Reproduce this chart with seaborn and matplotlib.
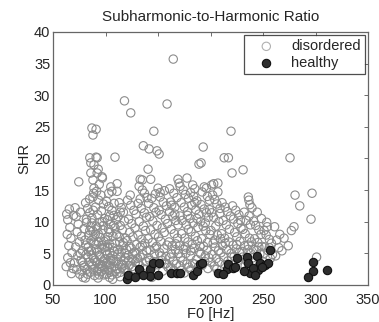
import matplotlib
matplotlib.use("Agg")
import matplotlib.pyplot as plt
import seaborn as sns
import pandas as pd

# Disordered voices: (F0 in Hz, SHR)
disordered_pts = [
    # 60-70 Hz
    (63, 11.2), (64, 10.3), (66, 9.1), (63.5, 8.0), (67, 7.4), (65, 6.2), (68, 5.1),
    (64, 4.3), (66.5, 3.5), (69, 2.6), (62.5, 2.9), (67.5, 1.8), (69.5, 11.0), (65.5, 12.0),
    # 70-80 Hz
    (71, 12.2), (72, 10.8), (74, 9.6), (76, 11.5), (73, 8.4), (77, 7.7), (75, 6.8),
    (71.5, 6.0), (78, 5.4), (73.5, 4.6), (76.5, 3.9), (79, 3.1), (72.5, 2.4), (75.5, 1.7),
    (78.5, 1.2), (74.5, 16.3), (79.5, 8.9), (70.5, 3.5), (77.5, 2.2),
    # 80-90 Hz
    (81, 13.0), (83, 12.1), (85, 11.4), (87, 10.6), (82, 9.9), (86, 9.2), (88, 8.5),
    (84, 7.8), (80.5, 7.1), (89, 6.6), (83.5, 6.0), (86.5, 5.4), (81.5, 4.8), (88.5, 4.2),
    (84.5, 3.6), (87.5, 3.0), (82.5, 2.5), (85.5, 2.0), (89.5, 1.5), (80.8, 1.1),
    (83.2, 4.4), (86.2, 7.0), (88.2, 11.8), (84.8, 13.6), (85, 20.1), (86, 19.3),
    (89, 19.0), (86, 17.7), (88, 16.6), (89, 15.3), (88.6, 14.5), (88, 13.9),
    (87, 24.8), (88, 23.7), (81.8, 10.4), (86.8, 3.3),
    # 90-100 Hz
    (91, 24.6), (92, 20.1), (91, 20.2), (93, 18.3), (92, 17.7), (96.7, 17.1), (97, 16.9),
    (94, 15.9), (91.5, 14.8), (95.5, 14.2), (93.5, 13.4), (98, 12.8), (90.5, 12.3),
    (96, 11.7), (92.5, 11.1), (99, 10.5), (94.5, 9.9), (91, 9.3), (97.5, 8.7), (93, 8.1),
    (95, 7.5), (98.5, 6.9), (90.8, 6.4), (96.5, 5.8), (92.2, 5.2), (94.2, 4.7),
    (99.2, 4.1), (91.8, 3.6), (97.2, 3.1), (93.8, 2.6), (95.8, 2.1), (98.2, 1.6),
    (92.8, 1.1), (90.2, 8.0), (96.8, 10.0), (94.8, 3.3), (99.5, 6.0),
    # 100-110 Hz
    (101, 13.2), (103, 12.4), (106, 11.8), (108, 11.0), (102, 10.3), (105, 9.6), (109, 9.0),
    (104, 8.3), (107, 7.7), (100.5, 7.1), (103.5, 6.5), (106.5, 5.9), (108.5, 5.3),
    (101.5, 4.8), (104.5, 4.2), (107.5, 3.7), (102.5, 3.2), (105.5, 2.7), (109.5, 2.2),
    (100.8, 1.7), (103.8, 1.2), (106.8, 0.9), (109, 20.2), (103, 14.5), (106, 14.8),
    (105, 15.5), (108.2, 12.9), (101.8, 6.0), (104.2, 2.0), (107.8, 9.4), (102.8, 8.8),
    # 110-120 Hz
    (111, 16.0), (111, 14.8), (113, 13.0), (115, 12.2), (117, 11.5), (112, 10.8),
    (118, 10.1), (114, 9.4), (116, 8.7), (110.5, 8.0), (119, 7.4), (113.5, 6.8),
    (116.5, 6.2), (111.5, 5.6), (118.5, 5.0), (114.5, 4.4), (117.5, 3.8), (112.5, 3.3),
    (115.5, 2.8), (119.5, 2.3), (110.8, 1.8), (113.8, 1.3), (118, 29.1),
    # 120-130 Hz
    (124, 27.2), (121, 13.4), (124, 12.6), (127, 11.8), (129, 11.2), (122, 10.4),
    (125, 9.7), (128, 9.0), (123, 8.3), (126, 7.6), (120.5, 7.0), (129.5, 6.4),
    (124.5, 5.8), (127.5, 5.2), (121.5, 4.7), (125.5, 4.1), (128.5, 3.6), (122.5, 3.1),
    (126.5, 2.6), (123.5, 14.2), (120.8, 2.0),
    # 130-140 Hz
    (132, 15.6), (133, 16.7), (135, 16.6), (135, 15.0), (136, 22.0), (133, 13.6),
    (131, 12.9), (134, 12.1), (137, 11.4), (139, 10.7), (132, 10.0), (136, 9.3),
    (138, 8.6), (131, 7.9), (134.5, 7.2), (137.5, 6.6), (133, 6.0), (139, 5.4),
    (135.5, 4.8), (130.5, 4.2), (138.5, 3.7), (132.5, 3.1), (136.5, 2.6), (134, 2.0),
    (139.5, 13.8), (137, 14.5),
    # 140-150 Hz
    (141.5, 21.5), (140.5, 18.3), (143, 16.7), (144, 13.7), (146, 24.3), (149, 21.2),
    (141, 12.9), (146, 12.2), (148, 11.5), (142, 10.8), (145, 10.1), (149, 9.4),
    (143, 8.7), (147, 8.0), (140.5, 7.3), (144.5, 6.7), (148.5, 6.1), (142.5, 5.5),
    (146.5, 4.9), (141, 4.3), (145.5, 3.7), (149.5, 3.2), (143.5, 2.7), (147.5, 14.4),
    (144, 1.2),
    # 150-160 Hz
    (150, 15.3), (151, 20.7), (158.6, 28.6), (152, 13.9), (155, 13.1), (158, 12.5),
    (151, 11.8), (153, 11.1), (157, 10.4), (159, 9.7), (154, 9.0), (156, 8.3),
    (150.5, 7.6), (152.5, 6.9), (158.5, 6.3), (155.5, 5.7), (151.5, 5.1), (157.5, 4.5),
    (153.5, 3.9), (156.5, 3.3), (159.5, 2.8), (154.5, 2.2), (152, 14.6), (156, 14.9),
    # 160-170 Hz
    (164.5, 35.7), (163, 12.6), (169, 16.7), (170, 16.1), (161, 15.2), (165, 14.5),
    (168, 13.8), (162, 13.1), (166, 12.3), (161, 11.6), (164, 10.9), (167, 10.2),
    (169, 9.5), (162.5, 8.8), (165.5, 8.1), (168.5, 7.4), (160.5, 6.8), (163.5, 6.2),
    (166.5, 5.6), (169.5, 5.0), (161.5, 4.4), (164.5, 3.8), (167.5, 3.3), (162, 2.8),
    (165, 2.3), (168, 1.8), (166, 11.2),
    # 170-180 Hz
    (177.6, 16.9), (171, 15.6), (174, 15.0), (176, 14.3), (179, 13.7), (172, 13.0),
    (175, 12.3), (178, 11.6), (171, 10.9), (173, 10.2), (177, 9.5), (179, 8.8),
    (172.5, 8.1), (175.5, 7.4), (178.5, 6.8), (170.5, 6.2), (174.5, 5.6), (176.5, 5.0),
    (171.5, 4.4), (173.5, 3.8), (177.5, 3.3), (179.5, 2.8), (172, 2.3), (175, 1.9),
    (178, 11.0),
    # 180-190 Hz
    (183, 15.8), (185, 15.2), (189, 19.1), (181, 14.6), (184, 14.0), (187, 13.3),
    (182, 12.6), (186, 11.9), (189, 11.2), (180.5, 10.5), (183.5, 9.8), (188, 9.1),
    (181.5, 8.4), (185.5, 7.7), (187.5, 7.0), (182.5, 6.4), (184.5, 5.8), (189.5, 5.2),
    (180.8, 4.6), (186.5, 4.0), (183, 3.4), (188.5, 2.9), (181, 2.4), (185, 13.0),
    (187, 10.5),
    # 190-200 Hz
    (193, 21.8), (191, 19.3), (194, 15.5), (196, 15.3), (192, 14.7), (197, 14.0),
    (199, 13.4), (191, 12.7), (194, 12.0), (196, 11.4), (198, 10.7), (190.5, 10.0),
    (193, 9.3), (195.5, 8.6), (199.5, 8.0), (191.5, 7.3), (197, 6.7), (193.5, 6.1),
    (196.5, 5.5), (190.8, 4.9), (198.5, 4.3), (194.5, 3.7), (192, 3.1), (197.5, 2.6),
    (195, 9.8), (199, 11.9),
    # 200-210 Hz
    (201, 15.8), (202, 14.2), (207, 14.7), (203, 16.0), (207, 16.1), (204, 13.5),
    (206, 12.8), (209, 12.1), (201, 11.4), (203, 10.7), (208, 10.0), (205, 9.3),
    (200.5, 8.6), (206.5, 7.9), (209.5, 7.3), (202.5, 6.6), (204.5, 6.0), (207.5, 5.4),
    (201.5, 4.8), (205.5, 4.2), (208.5, 3.6), (203.5, 3.0), (206, 2.5), (209, 11.3),
    # 210-220 Hz
    (213, 20.1), (217, 20.1), (219.5, 24.3), (211, 13.0), (214, 12.3), (216, 11.6),
    (219, 10.9), (212, 10.2), (215, 9.5), (218, 8.8), (210.5, 8.1), (213.5, 7.4),
    (217.5, 6.8), (211.5, 6.2), (215.5, 5.6), (219.5, 5.0), (212.5, 4.4), (216.5, 3.8),
    (214, 3.2), (218, 2.7),
    # 220-230 Hz
    (220.5, 17.7), (221, 12.5), (224, 11.8), (227, 11.1), (222, 10.4), (226, 9.7),
    (229, 9.0), (223, 8.3), (225, 7.6), (228, 6.9), (221.5, 6.3), (224.5, 5.7),
    (227.5, 5.1), (222.5, 4.5), (226.5, 3.9), (229.5, 3.3), (223.5, 2.8), (228.5, 10.2),
    # 230-240 Hz
    (231, 18.2), (236, 13.9), (236.5, 13.4), (239.5, 12.2), (236.7, 10.9), (232, 11.5),
    (234, 10.2), (238, 9.5), (231, 8.8), (233, 8.1), (237, 7.4), (239, 6.8),
    (232.5, 6.2), (235.5, 5.6), (238.5, 5.0), (230.5, 4.4), (234.5, 3.8), (233, 3.0),
    (237.5, 12.7),
    # 240-250 Hz
    (241, 10.1), (243, 9.4), (246, 8.7), (248, 8.0), (242, 7.3), (245, 6.7), (249, 6.1),
    (244, 5.5), (247, 4.9), (240.5, 4.3), (242.5, 3.6), (246.5, 3.1), (248.5, 10.5),
    (244.5, 11.5),
    # 250-260 Hz
    (254, 9.2), (251, 8.6), (253, 7.9), (256, 7.2), (258, 6.6), (252, 6.0), (255, 5.4),
    (259, 4.8), (257, 4.2), (250.5, 3.6), (253.5, 9.9),
    # 260-300 Hz
    (261, 9.2), (263, 7.1), (268, 5.4), (274, 6.2), (266, 8.0), (262, 4.6), (279.5, 9.2),
    (277, 8.6), (275.7, 20.1), (270, 7.4), (265, 5.9),
    (280.5, 14.2), (285, 12.5), (296.7, 14.5), (295.7, 10.4), (301, 4.4),
    # low-SHR core, 75-135 Hz
    (76, 5.0), (78, 3.6), (80, 2.8), (81, 6.3), (83, 1.7), (84, 5.3), (85, 8.6),
    (87, 4.7), (88, 2.4), (89, 7.6), (90, 3.9), (91, 5.7), (92, 2.2), (93, 6.8),
    (94, 1.6), (95, 4.4), (96, 2.9), (97, 6.3), (98, 3.8), (99, 2.5), (100, 5.4),
    (101, 3.4), (102, 7.6), (103, 2.3), (104, 5.1), (105, 3.9), (106, 1.6), (107, 4.6),
    (108, 2.9), (109, 6.6), (110, 3.7), (111, 2.6), (112, 4.9), (113, 7.6), (114, 2.0),
    (115, 5.2), (116, 3.3), (117, 6.7), (118, 2.6), (119, 4.3), (120, 5.6), (122, 3.8),
    (123, 6.1), (125, 2.9), (126, 4.9), (128, 2.3), (129, 5.0), (131, 3.5), (133, 4.4),
    (135, 6.2), (87, 9.8), (92, 9.0), (98, 9.4), (104, 10.9), (110, 10.3), (114, 11.5),
    # low-SHR core, 140-260 Hz
    (142, 3.9), (147, 5.8), (153, 4.6), (158, 3.4), (163, 4.9), (167, 6.5), (171, 3.0),
    (176, 6.0), (181, 5.4), (185, 3.3), (190, 6.1), (195, 4.6), (200, 3.6), (204, 7.1),
    (210, 5.1), (214, 6.6), (220, 4.4), (225, 6.4), (230, 5.3), (236, 6.3), (241, 5.6),
    (246, 6.0), (251, 5.0), (256, 5.9),
]

# Healthy voices: (F0 in Hz, SHR)
healthy_pts = [
    (120.5, 0.9), (121.4, 1.6), (128, 1.3), (132, 2.5), (142.4, 2.5), (145.2, 3.5),
    (151, 3.5), (142.4, 1.4), (150, 1.6), (136, 1.5), (162, 1.9), (168, 1.9), (171, 1.9),
    (183, 1.6), (187, 2.2), (190, 3.3), (192, 3.5), (207, 1.9), (216, 2.5), (217, 3.3),
    (221, 2.7), (225, 4.3), (223, 2.8), (212, 1.8), (235, 4.4), (236, 3.5), (238, 1.9),
    (244, 4.6), (247, 3.5), (252, 3.2), (255, 3.5), (257, 5.5), (245, 2.4), (240, 2.7),
    (232, 2.2), (242, 1.6), (249, 2.9), (297.6, 3.6), (297.6, 2.2), (293, 1.3),
    (311, 2.4),
]

x_ticks = [50, 100, 150, 200, 250, 300, 350]
y_ticks = [0, 5, 10, 15, 20, 25, 30, 35, 40]

dis = pd.DataFrame(disordered_pts, columns=["F0", "SHR"])
hea = pd.DataFrame(healthy_pts, columns=["F0", "SHR"])

sns.set_style("white")
plt.rcParams["font.family"] = ["Liberation Sans", "DejaVu Sans"]

fig = plt.figure(figsize=(3.79, 3.22), dpi=100)
ax = fig.add_axes([0.140, 0.115, 0.831, 0.786])

sns.scatterplot(data=dis, x="F0", y="SHR", ax=ax, s=36, marker="o",
                facecolors="none", edgecolor="#8c8c8c", linewidth=0.8,
                label="disordered")
sns.scatterplot(data=hea, x="F0", y="SHR", ax=ax, s=36, marker="o",
                color="#2e2e2e", edgecolor="#111111", linewidth=0.8,
                label="healthy")

ax.set_xlim(50, 350)
ax.set_ylim(0, 40)
ax.set_xticks(x_ticks)
ax.set_yticks(y_ticks)
ax.set_xlabel("F0 [Hz]", fontsize=10.5, labelpad=0)
ax.set_ylabel("SHR", fontsize=10.5, labelpad=2)
ax.set_title("Subharmonic-to-Harmonic Ratio", fontsize=11, pad=8)
ax.tick_params(direction="in", length=3, width=0.6, color="#555555",
               labelsize=10.5, top=True, right=True)
ax.tick_params(axis="x", pad=5.5)
ax.tick_params(axis="y", pad=2)
for sp in ax.spines.values():
    sp.set_visible(True)
    sp.set_color("#666666")
    sp.set_linewidth(0.9)

leg = ax.legend(loc="upper right", fontsize=10.5, frameon=True, fancybox=False,
                borderpad=0.3, handletextpad=0.5, labelspacing=0.2,
                borderaxespad=0.2, handlelength=2.4)
leg.get_frame().set_edgecolor("#222222")
leg.get_frame().set_linewidth(0.9)
leg.legend_handles[0].set_facecolor("none")
leg.legend_handles[0].set_edgecolor("#b0b0b0")

fig.savefig("out.png", dpi=100)
